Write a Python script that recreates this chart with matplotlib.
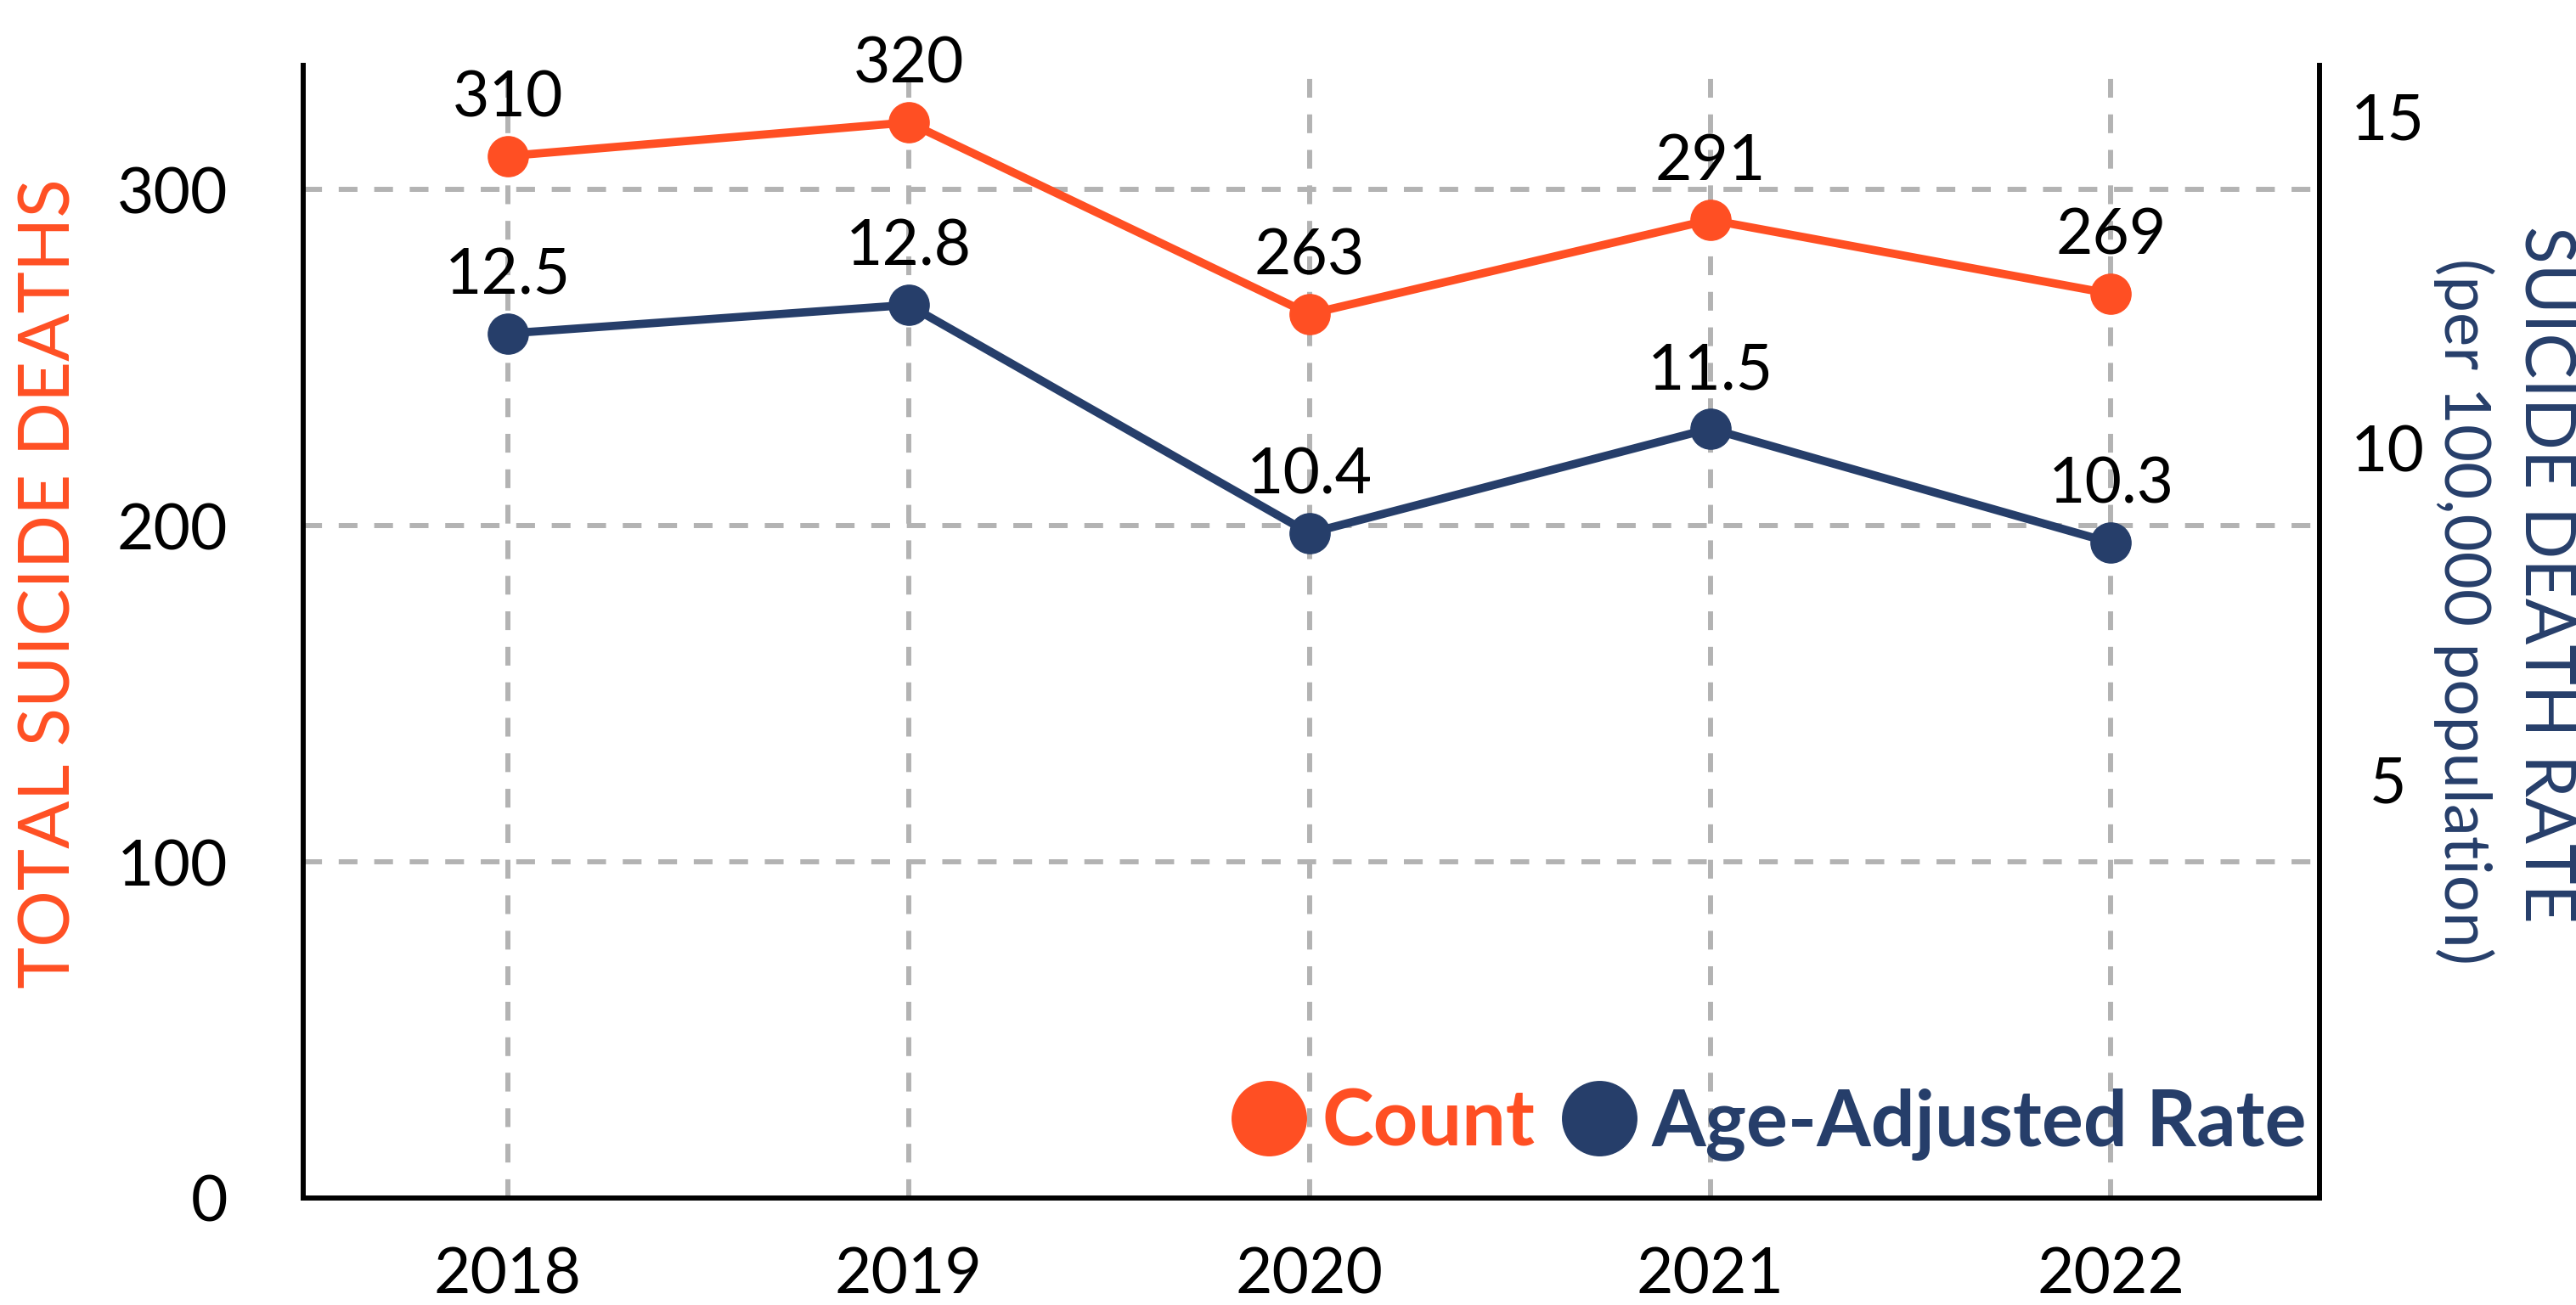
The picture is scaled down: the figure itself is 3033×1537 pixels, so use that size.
import matplotlib.pyplot as plt
from matplotlib.lines import Line2D

# data
years = [2018, 2019, 2020, 2021, 2022]
deaths = [310, 320, 263, 291, 269]
rates = [12.5, 12.8, 10.4, 11.5, 10.3]
count_ticks = [0, 100, 200, 300]
rate_ticks = [5, 10, 15]

ORANGE = '#FF4F23'
NAVY = '#263E6A'
GRID = '#B3B3B3'

plt.rcParams['font.family'] = ['Lato', 'DejaVu Sans']

fig = plt.figure(figsize=(30.33, 15.37), dpi=100)
ax = fig.add_axes([0.1177, 0.082, 0.7827, 0.868])
ax2 = ax.twinx()  # rate line
ax3 = ax.twinx()  # right hand scale

# count series
ax.plot(years, deaths, color=ORANGE, lw=7, marker='o', ms=34, zorder=3)
for x, v in zip(years, deaths):
    ax.annotate(str(v), (x, v), xytext=(0, 49), textcoords='offset points',
                ha='center', va='center', fontsize=54)

# rate series
ax2.plot(years, rates, color=NAVY, lw=7, marker='o', ms=34, zorder=3)
for x, v in zip(years, rates):
    ax2.annotate('{:.1f}'.format(v), (x, v), xytext=(0, 49), textcoords='offset points',
                 ha='center', va='center', fontsize=54)

ax.set_xlim(2017.49, 2022.52)
ax.set_ylim(0, 337)
ax2.set_ylim(3.41, 15.32)
ax3.set_ylim(-1.33, 15.77)

ax.set_xticks(years)
ax.set_yticks(count_ticks)
ax.grid(True, color=GRID, lw=4.3, ls=(0, (3.7, 3.3)))
ax.tick_params(axis='y', length=0, pad=64, labelsize=54)
ax.tick_params(axis='x', length=0, pad=41, labelsize=54)

ax2.set_yticks([])
ax3.set_yticks(rate_ticks)
ax3.tick_params(axis='y', length=0, pad=58, labelsize=54)
for t in ax3.get_yticklabels():
    t.set_ha('center')

for s in ['top', 'right']:
    ax.spines[s].set_visible(False)
for s in ['left', 'bottom']:
    ax.spines[s].set_linewidth(4.3)
for s in ax2.spines.values():
    s.set_visible(False)
for s in ['top', 'left', 'bottom']:
    ax3.spines[s].set_visible(False)
ax3.spines['right'].set_linewidth(4.3)

# axis titles
fig.text(60 / 3033, 1 - 687 / 1537, 'TOTAL SUICIDE DEATHS', rotation=90,
         ha='center', va='center', color=ORANGE, fontsize=60)
fig.text(2996 / 3033, 1 - 676 / 1537, 'SUICIDE DEATH RATE', rotation=270,
         ha='center', va='center', color=NAVY, fontsize=58)
fig.text(2901 / 3033, 1 - 720 / 1537, '(per 100,000 population)', rotation=270,
         ha='center', va='center', color=NAVY, fontsize=55)

# legend
handles = [Line2D([], [], ls='', marker='o', ms=63, color=ORANGE),
           Line2D([], [], ls='', marker='o', ms=63, color=NAVY)]
ax3.legend(handles, ['Count', 'Age-Adjusted Rate'], ncol=2, frameon=False,
           loc='center right', bbox_to_anchor=(2716 / 3033, 213 / 1537),
           bbox_transform=fig.transFigure,
           prop=dict(family='Lato', weight='bold', size=66),
           labelcolor=[ORANGE, NAVY], handlelength=0.95, handletextpad=0.2,
           columnspacing=0.35, borderpad=0, borderaxespad=0)

fig.savefig('out.png', dpi=100)
